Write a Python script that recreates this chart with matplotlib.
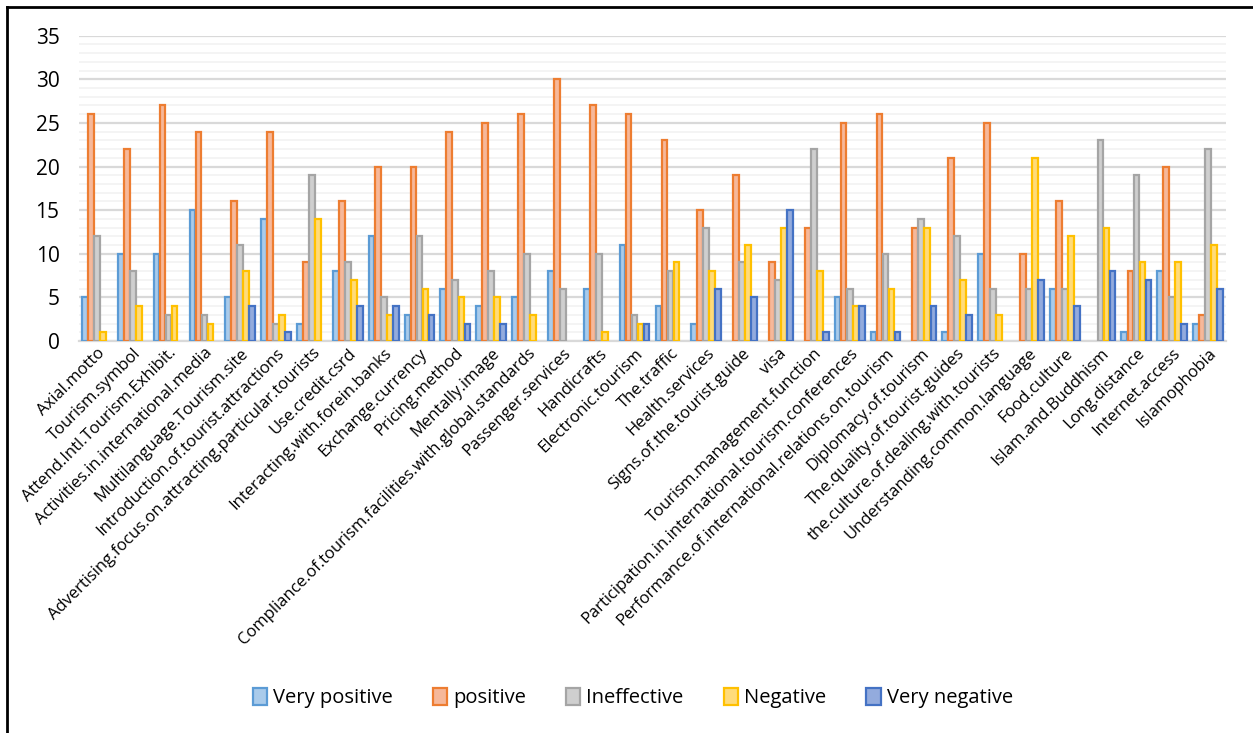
import matplotlib
matplotlib.use("Agg")
import matplotlib.pyplot as plt
import numpy as np
from matplotlib.lines import Line2D

categories = [
    "Axial.motto", "Tourism.symbol", "Attend.Intl.Tourism.Exhibit.",
    "Activities.in.international.media", "Multilanguage.Tourism.site",
    "Introduction.of.tourist.attractions",
    "Advertising.focus.on.attracting.particular.tourists", "Use.credit.csrd",
    "Interacting.with.forein.banks", "Exchange.currency", "Pricing.method",
    "Mentally.image", "Compliance.of.tourism.facilities.with.global.standards",
    "Passenger.services", "Handicrafts", "Electronic.tourism", "The.traffic",
    "Health.services", "Signs.of.the.tourist.guide", "visa",
    "Tourism.management.function",
    "Participation.in.international.tourism.conferences",
    "Performance.of.international.relations.on.tourism",
    "Diplomacy.of.tourism", "The.quality.of.tourist.guides",
    "the.culture.of.dealing.with.tourists", "Understanding.common.language",
    "Food.culture", "Islam.and.Buddhism", "Long.distance", "Internet.access",
    "Islamophobia",
]

very_positive = [5, 10, 10, 15, 5, 14, 2, 8, 12, 3, 6, 4, 5, 8, 6, 11,
                 4, 2, 0, 0, 0, 5, 1, 0, 1, 10, 0, 6, 0, 1, 8, 2]
positive = [26, 22, 27, 24, 16, 24, 9, 16, 20, 20, 24, 25, 26, 30, 27, 26,
            23, 15, 19, 9, 13, 25, 26, 13, 21, 25, 10, 16, 0, 8, 20, 3]
ineffective = [12, 8, 3, 3, 11, 2, 19, 9, 5, 12, 7, 8, 10, 6, 10, 3,
               8, 13, 9, 7, 22, 6, 10, 14, 12, 6, 6, 6, 23, 19, 5, 22]
negative = [1, 4, 4, 2, 8, 3, 14, 7, 3, 6, 5, 5, 3, 0, 1, 2,
            9, 8, 11, 13, 8, 4, 6, 13, 7, 3, 21, 12, 13, 9, 9, 11]
very_negative = [0, 0, 0, 0, 4, 1, 0, 4, 4, 3, 2, 2, 0, 0, 0, 2,
                 0, 6, 5, 15, 1, 4, 1, 4, 3, 0, 7, 4, 8, 7, 2, 6]

series_names = ["Very positive", "positive", "Ineffective", "Negative", "Very negative"]
series = [very_positive, positive, ineffective, negative, very_negative]
edge_colors = ["#5B9BD5", "#ED7D31", "#A5A5A5", "#FFC000", "#4472C4"]
face_colors = ["#A9CBEB", "#F6B89A", "#CFCFCF", "#FFDB7A", "#93ABDD"]

fig = plt.figure(figsize=(12.53, 7.33), dpi=100)
ax = fig.add_axes([79 / 1253, 1 - 341 / 733, (1226 - 79) / 1253, (341 - 35.7) / 733])

x = np.arange(len(categories))
bw = 0.168
for i, (vals, name) in enumerate(zip(series, series_names)):
    vals = np.array(vals)
    # zero bars get no outline, so nothing shows on the baseline
    lw = np.where(vals > 0, 1.6, 0.0)
    ax.bar(x + (i - 2) * bw, vals, width=bw * 0.95, color=face_colors[i],
           edgecolor=edge_colors[i], linewidth=lw, label=name, zorder=3)

ax.set_xlim(-0.5, len(categories) - 0.5)
ax.set_ylim(0, 35)
ax.set_yticks(range(0, 36, 5))
ax.set_yticks(range(0, 36, 1), minor=True)
ax.grid(axis="y", which="major", color="#D9D9D9", linewidth=1.6, zorder=0)
ax.grid(axis="y", which="minor", color="#F2F2F2", linewidth=1.2, zorder=0)
ax.tick_params(axis="y", which="both", length=0, labelsize=15, pad=14)
ax.tick_params(axis="x", length=0, pad=3)
for s in ["top", "right", "left"]:
    ax.spines[s].set_visible(False)
ax.spines["bottom"].set_color("#D9D9D9")
ax.spines["bottom"].set_linewidth(1.6)

ax.set_xticks(x)
ax.set_xticklabels(categories, rotation=45, ha="right", rotation_mode="anchor",
                   fontsize=12, family="Open Sans")
for lab in ax.get_yticklabels():
    lab.set_family("Open Sans")

handles = [plt.Rectangle((0, 0), 1, 1, facecolor=face_colors[i],
                         edgecolor=edge_colors[i], linewidth=1.6)
           for i in range(5)]
fig.legend(handles, series_names, loc="center", bbox_to_anchor=(0.505, 1 - 698 / 733),
           ncol=5, frameon=False, prop={"family": "Open Sans", "size": 14.5},
           handlelength=0.7, handleheight=0.9, handletextpad=0.3, columnspacing=2.0)

# outer frame (left and top)
fig.add_artist(Line2D([7 / 1253, 7 / 1253], [0, 1 - 7 / 733], color="black",
                      linewidth=2, transform=fig.transFigure))
fig.add_artist(Line2D([7 / 1253, 1], [1 - 7 / 733, 1 - 7 / 733], color="black",
                      linewidth=2, transform=fig.transFigure))

fig.savefig("out.png", dpi=100)
